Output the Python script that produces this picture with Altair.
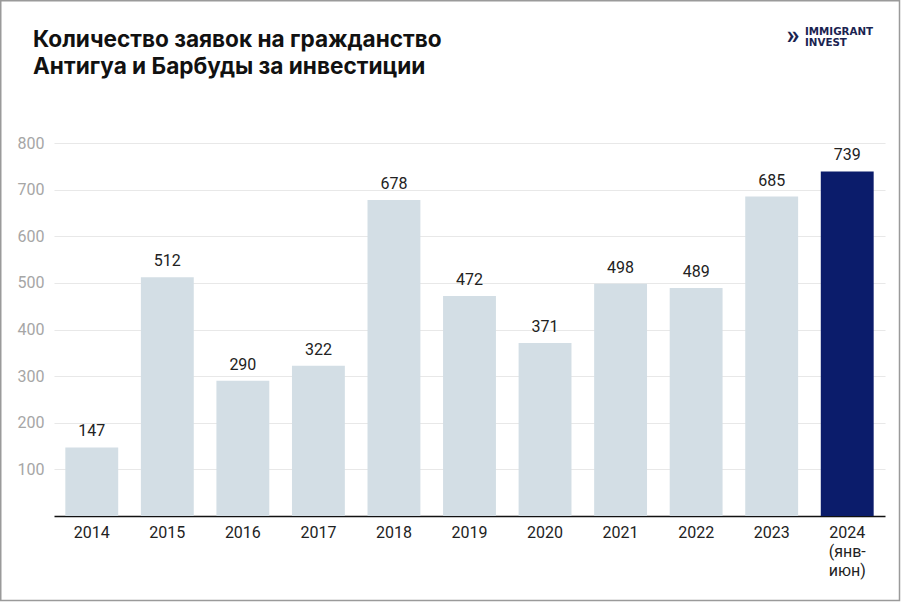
import altair as alt
import pandas as pd

years = ["2014", "2015", "2016", "2017", "2018", "2019", "2020", "2021", "2022", "2023", "2024 (янв-июн)"]
values = [147, 512, 290, 322, 678, 472, 371, 498, 489, 685, 739]
highlight = [False] * 10 + [True]
y_ticks = [100, 200, 300, 400, 500, 600, 700, 800]
title_lines = ["Количество заявок на гражданство", "Антигуа и Барбуды за инвестиции"]
logo_lines = ["IMMIGRANT", "INVEST"]

df = pd.DataFrame({"year": years, "value": values, "hl": highlight})

W, H = 831, 373
PL, PT, PR, PB = 54, 143, 17, 86
FONT = "Roboto"

x_enc = alt.X("year:N", sort=years, title=None,
              scale=alt.Scale(paddingInner=0.3, paddingOuter=0.15),
              axis=alt.Axis(labelAngle=0, labelFontSize=16, labelColor="#222222", labelFont=FONT,
                            labelPadding=8, ticks=False, domainColor="#111111", domainWidth=1.5,
                            labelLineHeight=19, labelBaseline="top",
                            labelExpr="datum.value == '2024 (янв-июн)' ? ['2024', '(янв-', 'июн)'] : datum.label"))
y_enc = alt.Y("value:Q", title=None, scale=alt.Scale(domain=[0, 800], nice=False),
              axis=alt.Axis(values=y_ticks, labelFontSize=16, labelColor="#a6a6a6", labelFont=FONT,
                            labelPadding=10, ticks=False, domain=False, gridColor="#e8e8e8", gridWidth=1.2))

bars = alt.Chart(df).mark_bar().encode(
    x=x_enc, y=y_enc,
    color=alt.Color("hl:N", scale=alt.Scale(domain=[False, True], range=["#d3dee5", "#0b1c6b"]), legend=None),
)
labels = alt.Chart(df).mark_text(dy=-8, baseline="bottom", fontSize=16, font=FONT, color="#222222").encode(
    x=alt.X("year:N", sort=years), y="value:Q", text="value:Q")

def text_line(t, x, y, size, weight, font, color, align="left", baseline="alphabetic", lineHeight=None):
    kw = dict(align=align, baseline=baseline, fontSize=size, fontWeight=weight, font=font, color=color)
    if lineHeight:
        kw["lineHeight"] = lineHeight
    return alt.Chart(pd.DataFrame({"a": [0]})).mark_text(**kw).encode(
        x=alt.value(x - PL), y=alt.value(y - PT), text=alt.value(t))

title1 = text_line(title_lines[0], 33, 47, 22.6, "bold", "Inter", "#111111")
title2 = text_line(title_lines[1], 33, 74, 22.6, "bold", "Inter", "#111111")
logo = text_line(logo_lines, 805, 27, 10.3, "bold", "DejaVu Sans", "#1a2350", baseline="top", lineHeight=11)
icon = text_line("»", 793, 36, 26, "bold", FONT, "#1a2350", align="center", baseline="middle")

border = alt.Chart(pd.DataFrame({"a": [0]})).mark_rect(fill=None, stroke="#9a9a9a", strokeWidth=1.5).encode(
    x=alt.value(-PL + 0.75), x2=alt.value(W + PR - 2.5), y=alt.value(-PT + 0.75), y2=alt.value(H + PB - 1.5))

chart = alt.layer(bars, labels, title1, title2, logo, icon, border).properties(
    width=W, height=H,
    autosize=alt.AutoSizeParams(type="none"),
    padding={"left": PL, "top": PT, "right": PR, "bottom": PB},
    background="white",
).configure_view(stroke=None)

chart.save("out.html", embed_options={"renderer": "svg", "actions": False})
